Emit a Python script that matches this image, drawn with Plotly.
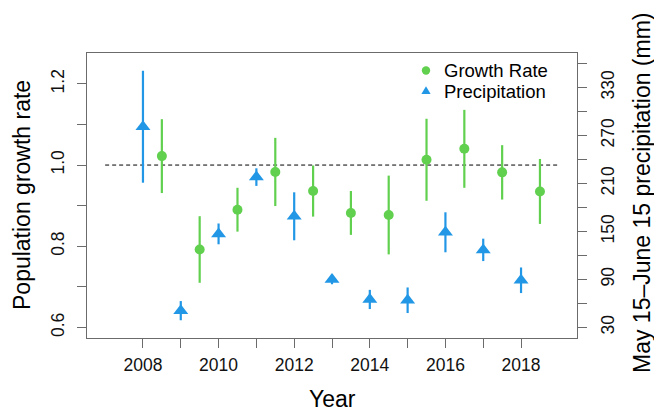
import plotly.graph_objects as go

# Survey years
years = [2008, 2009, 2010, 2011, 2012, 2013, 2014, 2015, 2016, 2017, 2018]

# Population growth rate (lambda) and its error half-width
growth = [1.022, 0.792, 0.890, 0.983, 0.936, 0.882, 0.877, 1.013, 1.040, 0.982, 0.935]
growth_err = [0.091, 0.082, 0.054, 0.084, 0.063, 0.054, 0.097, 0.101, 0.096, 0.067, 0.080]

# May 15 - June 15 precipitation (mm) and its error half-width
precip = [281, 51, 147, 218, 169, 90, 65, 64, 149, 127, 89]
precip_err = [70, 12, 13, 11, 30, 6, 12, 16, 25, 14, 16]

# Axis ticks and labels
year_ticks = years
year_labels = [str(y) if y % 2 == 0 else "" for y in years]
growth_ticks = [0.6, 0.7, 0.8, 0.9, 1.0, 1.1, 1.2]
growth_labels = ["0.6", "", "0.8", "", "1.0", "", "1.2"]
precip_ticks = [30, 60, 90, 120, 150, 180, 210, 240, 270, 300, 330, 360]
precip_labels = ["30", "", "90", "", "150", "", "210", "", "270", "", "330", ""]

# Reference line: stable population (lambda = 1)
ref_level = 1.0
ref_span = [2007, 2019]

# Legend entries
legend_names = ["Growth Rate", "Precipitation"]

GREEN = "#61D04F"
BLUE = "#2297E6"
FRAME = "#6b6b6b"
FONT = "Liberation Sans, Arial, sans-serif"

W, H = 654, 416
ML, MR, MT, MB = 87, 77, 53, 78
PW, PH = W - ML - MR, H - MT - MB


def px_x(px):
    return (px - ML) / PW


def px_y(py):
    return (H - MB - py) / PH


growth_x = [y + 0.5 for y in years]

fig = go.Figure()

fig.add_trace(go.Scatter(
    x=ref_span, y=[ref_level, ref_level], mode="lines",
    line=dict(color="black", width=1, dash="4px,3px"),
    showlegend=False, hoverinfo="skip",
))

fig.add_trace(go.Scatter(
    x=years, y=precip, yaxis="y2", mode="markers",
    marker=dict(symbol="triangle-up", size=13, color=BLUE),
    error_y=dict(type="data", array=precip_err, color=BLUE, thickness=2.2, width=0),
    showlegend=False, name=legend_names[1],
))

fig.add_trace(go.Scatter(
    x=growth_x, y=growth, mode="markers",
    marker=dict(symbol="circle", size=10, color=GREEN),
    error_y=dict(type="data", array=growth_err, color=GREEN, thickness=2.2, width=0),
    showlegend=False, name=legend_names[0],
))

axis_common = dict(
    ticks="outside", ticklen=9, tickcolor=FRAME, tickwidth=1,
    showgrid=False, zeroline=False,
    tickfont=dict(size=17.5, family=FONT, color="#111"),
)

# Key in the upper-right corner of the panel
leg_sym_x = 426
leg_text_x = 442
leg_rows = [70.5, 91.5]
shapes = [
    dict(type="circle", xref="paper", yref="paper",
         xsizemode="pixel", ysizemode="pixel",
         xanchor=px_x(leg_sym_x), yanchor=px_y(leg_rows[0]),
         x0=-4.2, x1=4.2, y0=-4.2, y1=4.2,
         fillcolor=GREEN, line=dict(width=0)),
    dict(type="path", xref="paper", yref="paper",
         xsizemode="pixel", ysizemode="pixel",
         xanchor=px_x(leg_sym_x), yanchor=px_y(leg_rows[1]),
         path="M-4.6,-2.6 L4.6,-2.6 L0,5.2 Z",
         fillcolor=BLUE, line=dict(width=0)),
]
legend_notes = [
    dict(text=name, xref="paper", yref="paper", x=px_x(leg_text_x), y=px_y(row),
         xanchor="left", yanchor="middle", showarrow=False,
         font=dict(size=18.5, family=FONT, color="black"))
    for name, row in zip(legend_names, leg_rows)
]

fig.update_layout(
    width=W, height=H,
    margin=dict(l=ML, r=MR, t=MT, b=MB),
    plot_bgcolor="white", paper_bgcolor="white",
    font=dict(family=FONT, color="black"),
    showlegend=False,
    xaxis=dict(
        range=[2006.52, 2019.48], tickvals=year_ticks, ticktext=year_labels,
        showline=True, linecolor=FRAME, linewidth=1.3, mirror=True,
        ticklabelstandoff=2, **axis_common,
    ),
    yaxis=dict(
        range=[0.574, 1.276], tickvals=growth_ticks, ticktext=growth_labels,
        tickangle=-90, showline=True, linecolor=FRAME, linewidth=1.3, mirror=True,
        ticklabelstandoff=6, **axis_common,
    ),
    yaxis2=dict(
        range=[16.8, 373.2], tickvals=precip_ticks, ticktext=precip_labels,
        tickangle=-90, overlaying="y", side="right", showline=False,
        ticklabelstandoff=6, **axis_common,
    ),
    shapes=shapes,
    annotations=legend_notes + [
        dict(text="Year", xref="paper", yref="paper", x=0.5, y=px_y(399),
             xanchor="center", yanchor="middle", showarrow=False,
             font=dict(size=23, family=FONT, color="black")),
        dict(text="Population growth rate", xref="paper", yref="paper",
             x=px_x(22), y=px_y(195), xanchor="center", yanchor="middle",
             textangle=-90, showarrow=False,
             font=dict(size=23, family=FONT, color="black")),
        dict(text="May 15\u2013June 15 precipitation (mm)", xref="paper", yref="paper",
             x=px_x(642), y=px_y(193), xanchor="center", yanchor="middle",
             textangle=-90, showarrow=False,
             font=dict(size=23, family=FONT, color="black")),
    ],
)

fig.write_html("out.html")
